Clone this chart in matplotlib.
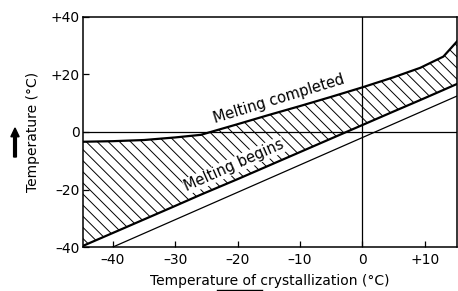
import matplotlib
matplotlib.use('Agg')
import matplotlib.pyplot as plt

plt.rcParams['font.family'] = ['DejaVu Sans']
plt.rcParams['hatch.linewidth'] = 0.7

# crystallization temperature (x) and the two melting curves
cryst_T = [-44.8, -40, -35, -30, -25.9, -20, -15, -10, -5, 0, 5, 9.3, 13, 15.2]
melt_end = [-3.4, -3.2, -2.8, -1.9, -1.0, 2.7, 5.9, 9.0, 12.2, 15.5, 19.0, 22.3, 26.2, 31.5]
melt_start = [-39.6, -35.1, -30.4, -25.7, -21.8, -16.4, -11.7, -7.0, -2.3, 2.4, 7.1, 11.1, 14.6, 16.7]

# thin reference line
ref_x = [-40, 15.2]
ref_y = [-40, 12.5]

x_ticks = [-40, -30, -20, -10, 0, 10]
x_labels = ['\u201340', '\u201330', '\u201320', '\u201310', '0', '+10']
y_ticks = [-40, -20, 0, 20, 40]
y_labels = ['\u201340', '\u201320', '0', '+20', '+40']

fig = plt.figure(figsize=(4.58, 2.91), dpi=100)
ax = fig.add_axes([0.181, 0.151, 0.817, 0.791])

ax.fill_between(cryst_T, melt_start, melt_end, facecolor='none', edgecolor='black',
                hatch='\\\\\\', linewidth=0)
ax.plot(cryst_T, melt_end, color='black', lw=1.6)
ax.plot(cryst_T, melt_start, color='black', lw=1.6)
ax.plot(ref_x, ref_y, color='black', lw=0.9)
ax.axhline(0, color='black', lw=0.9)
ax.axvline(0, color='black', lw=0.9)

ax.text(-13.3, 11.6, 'Melting completed', rotation=17, ha='center', va='center', fontsize=10.5)
ax.text(-20.5, -11.6, 'Melting begins', rotation=24, ha='center', va='center', fontsize=10.5,
        bbox=dict(facecolor='white', edgecolor='none', pad=0.5))

ax.set_xlim(-44.8, 15.2)
ax.set_ylim(-40, 40)
ax.set_xticks(x_ticks)
ax.set_xticklabels(x_labels, fontsize=10)
ax.set_yticks(y_ticks)
ax.set_yticklabels(y_labels, fontsize=10)
ax.tick_params(direction='in', length=4, width=0.9)
ax.tick_params(axis='y', pad=2)
ax.tick_params(axis='x', pad=4)
for s in ax.spines.values():
    s.set_linewidth(1.1)

ax.set_xlabel('Temperature of crystallization (\u00b0C)', fontsize=10, labelpad=5)
ax.set_ylabel('Temperature (\u00b0C)', fontsize=10, labelpad=8)

# direction arrows beside the axis labels
fig.patches.append(matplotlib.patches.FancyArrow(15/458, 1-157/291, 0, 29/291, width=0.006,
                   head_width=0.018, head_length=0.03, length_includes_head=True,
                   color='black', transform=fig.transFigure, figure=fig))
fig.lines.append(matplotlib.lines.Line2D([217/458, 262/458], [1-290/291, 1-290/291], color='black',
                 lw=1, transform=fig.transFigure, figure=fig))

plt.savefig('out.png', dpi=100)
